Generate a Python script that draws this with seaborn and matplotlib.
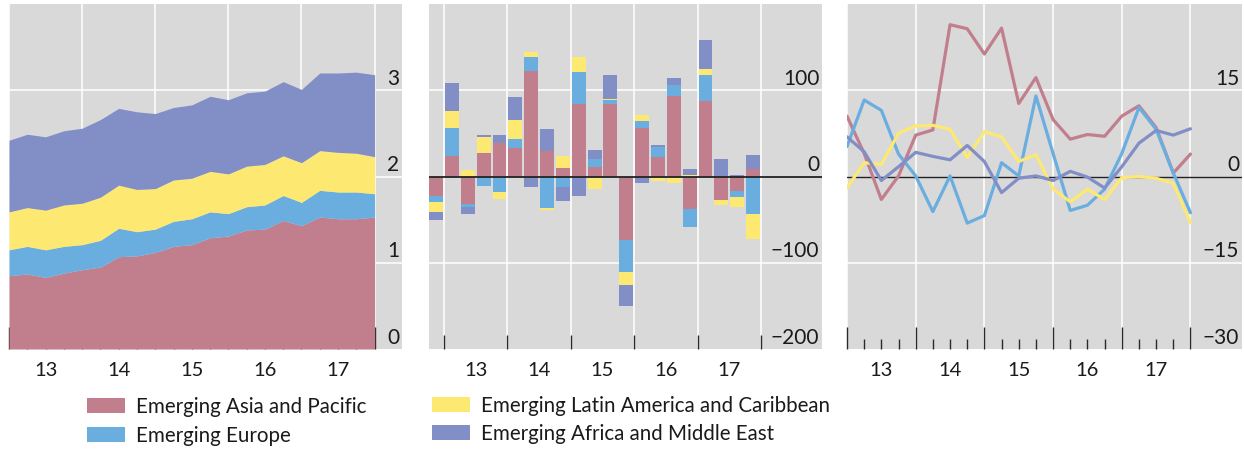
import numpy as np
import pandas as pd
import matplotlib
matplotlib.use("Agg")
import matplotlib.pyplot as plt
from matplotlib.patches import Patch
import seaborn as sns

# ── data ─────────────────────────────────────────────────────────────────────
quarters = ["12Q4",
            "13Q1", "13Q2", "13Q3", "13Q4",
            "14Q1", "14Q2", "14Q3", "14Q4",
            "15Q1", "15Q2", "15Q3", "15Q4",
            "16Q1", "16Q2", "16Q3", "16Q4",
            "17Q1", "17Q2", "17Q3", "17Q4"]
year_labels = ["13", "14", "15", "16", "17"]
regions = ["Emerging Asia and Pacific", "Emerging Europe",
           "Emerging Latin America and Caribbean", "Emerging Africa and Middle East"]

# left panel: stocks (stacked)
stock_asia = [0.85, 0.87, 0.83, 0.88, 0.92, 0.95, 1.07, 1.08, 1.12, 1.19, 1.21,
              1.29, 1.31, 1.38, 1.39, 1.49, 1.43, 1.53, 1.51, 1.51, 1.53]
stock_europe = [0.30, 0.32, 0.32, 0.31, 0.29, 0.31, 0.33, 0.28, 0.27, 0.29, 0.30,
                0.30, 0.26, 0.27, 0.28, 0.29, 0.27, 0.31, 0.31, 0.31, 0.27]
stock_latam = [0.44, 0.45, 0.46, 0.48, 0.48, 0.50, 0.50, 0.49, 0.47, 0.48, 0.47,
               0.47, 0.46, 0.47, 0.47, 0.46, 0.46, 0.46, 0.46, 0.45, 0.43]
stock_africa = [0.83, 0.85, 0.85, 0.86, 0.87, 0.90, 0.89, 0.90, 0.87, 0.84, 0.85,
                0.87, 0.86, 0.85, 0.85, 0.86, 0.85, 0.90, 0.92, 0.94, 0.95]

# middle panel: flows (stacked bars)
flow_asia = [-22.3, 23.8, -31.5, 27.3, 38.8, 33.0, 121.9, 29.6, 10.0, 83.8, 11.2,
             83.8, -73.1, 56.2, 22.7, 93.1, -37.3, 87.3, -26.9, -16.5, 8.8]
flow_europe = [-6.9, 32.3, -3.5, -10.8, -17.7, 10.4, 16.2, -36.2, -11.9, 36.9, 9.2,
               4.6, -38.1, 8.1, 11.5, 12.7, -20.8, 30.0, 0.0, -6.9, -43.1]
flow_latam = [-11.5, 19.6, 7.7, 18.5, -8.1, 21.9, 5.8, -3.1, 13.8, 17.3, -15.0,
              1.2, -15.0, 6.9, -5.0, -8.1, 1.9, 6.9, -5.8, -11.5, -28.8]
flow_africa = [-10.0, 32.3, -8.1, 2.3, 9.2, 26.5, -12.7, 25.4, -16.2, -22.3, 10.4,
               27.7, -23.8, -7.3, 2.3, 8.1, 6.9, 33.5, 20.4, 1.9, 16.2]

# right panel: growth rates
growth_asia = [10.5, 4.0, -4.0, 0.1, 7.2, 8.1, 26.4, 25.7, 21.3, 25.8, 12.7,
               17.2, 9.9, 6.5, 7.3, 7.0, 10.5, 12.3, 8.5, 0.6, 3.9]
growth_europe = [5.2, 13.3, 11.5, 3.9, 0.1, -6.1, 0.1, -8.1, -6.8, 2.4, 0.1,
                 14.0, 4.0, -5.9, -5.0, -2.2, 4.0, 12.0, 8.2, 0.6, -6.3]
growth_latam = [-2.0, 2.4, 2.1, 7.5, 8.8, 8.9, 8.2, 3.3, 7.8, 6.9, 2.6,
                3.8, -2.2, -4.4, -2.2, -4.0, -0.2, 0.0, -0.3, -1.2, -8.0]
growth_africa = [6.9, 4.3, -0.7, 1.7, 4.2, 3.5, 2.9, 5.4, 2.6, -2.8, -0.3,
                 0.1, -0.7, 0.9, -0.1, -2.0, 1.7, 5.8, 8.0, 7.2, 8.3]

colors = ["#c17f8e", "#6aaee0", "#fde972", "#828ec6"]
BG = "#d9d9d9"
INK = "#1a1a1a"
FONT = ["Lato", "DejaVu Sans"]

sns.set_theme(style="darkgrid", rc={
    "axes.facecolor": BG, "grid.color": "white", "grid.linewidth": 1.1,
    "axes.edgecolor": BG, "axes.linewidth": 0,
})
plt.rcParams["font.family"] = FONT

W, H = 1244, 449
fig = plt.figure(figsize=(W / 100, H / 100), dpi=100)


def px_axes(left, right, top=4, bottom=349):
    return fig.add_axes([left / W, (H - bottom) / H, (right - left) / W, (bottom - top) / H])


def right_labels(ax, vals, texts):
    for v, t in zip(vals, texts):
        ax.annotate(t, xy=(1, v), xycoords=ax.get_yaxis_transform(),
                    xytext=(-2, 1), textcoords="offset points",
                    ha="right", va="bottom", fontsize=15, color=INK)


def year_ticks(ax, centers):
    for c, lab in zip(centers, year_labels):
        ax.annotate(lab, xy=(c, 0), xycoords=ax.get_xaxis_transform(),
                    xytext=(0, -15.5), textcoords="offset points",
                    ha="center", va="center", fontsize=14.5, color=INK)


def quarter_ticks(ax, n, major_len=16, minor_len=7.5):
    ax.set_xticks([i for i in range(n) if i % 4 == 0])
    ax.set_xticks([i for i in range(n) if i % 4 != 0], minor=True)
    ax.tick_params(axis="x", which="major", direction="in", length=major_len,
                   width=1, color="#2a2a2a", labelbottom=False, bottom=True)
    ax.tick_params(axis="x", which="minor", direction="in", length=minor_len,
                   width=1, color="#2a2a2a", bottom=True)
    ax.grid(True, which="major", axis="both")
    ax.grid(False, which="minor")


x = np.arange(len(quarters))

# ── left: stacked stocks ─────────────────────────────────────────────────────
ax1 = px_axes(9, 402)
ax1.stackplot(x, stock_asia, stock_europe, stock_latam, stock_africa,
              colors=colors, linewidth=0, zorder=2)
ax1.set_xlim(0, 21.5)
ax1.set_ylim(0, 4)
ax1.set_yticks([1, 2, 3])
ax1.tick_params(axis="y", left=False, right=False, labelleft=False)
quarter_ticks(ax1, len(quarters))
ax1.set_axisbelow(True)
right_labels(ax1, [0, 1, 2, 3], ["0", "1", "2", "3"])
year_ticks(ax1, [2, 6, 10, 14, 18])

# ── middle: stacked flows ────────────────────────────────────────────────────
ax2 = px_axes(429, 822)
flows = [flow_asia, flow_europe, flow_latam, flow_africa]
pos_base = np.zeros(len(quarters))
neg_base = np.zeros(len(quarters))
for vals, col in zip(flows, colors):
    v = np.array(vals)
    base = np.where(v >= 0, pos_base, neg_base)
    ax2.bar(x, v, bottom=base, width=0.88, color=col, linewidth=0, zorder=2)
    pos_base = pos_base + np.clip(v, 0, None)
    neg_base = neg_base + np.clip(v, None, 0)
ax2.axhline(0, color="#222222", linewidth=1.3, zorder=4)
ax2.set_xlim(-0.45, 24.35)
ax2.set_ylim(-200, 200)
ax2.set_yticks([-100, 100])
ax2.tick_params(axis="y", left=False, right=False, labelleft=False)
ax2.set_xticks([0.5 + 4 * k for k in range(6)])
ax2.tick_params(axis="x", direction="in", length=10, width=1, color="#2a2a2a",
                labelbottom=False, bottom=True)
ax2.set_axisbelow(True)
right_labels(ax2, [-200, -100, 0, 100], ["\u2212200", "\u2212100", "0", "100"])
year_ticks(ax2, [2.5, 6.5, 10.5, 14.5, 18.5])

# ── right: growth lines ──────────────────────────────────────────────────────
ax3 = px_axes(847, 1242)
growth = pd.DataFrame({
    "q": np.tile(x, 4),
    "region": np.repeat(regions, len(quarters)),
    "value": growth_asia + growth_europe + growth_latam + growth_africa,
})
ax3.axhline(0, color="#222222", linewidth=1.0, zorder=1.5)
sns.lineplot(data=growth, x="q", y="value", hue="region", hue_order=regions,
             palette=dict(zip(regions, colors)), linewidth=2.3, legend=False,
             sort=False, ax=ax3, zorder=3)
ax3.set_xlim(0, 23)
ax3.set_ylim(-30, 30)
ax3.set_yticks([-15, 15])
ax3.set_xlabel("")
ax3.set_ylabel("")
ax3.tick_params(axis="y", left=False, right=False, labelleft=False)
quarter_ticks(ax3, len(quarters))
ax3.set_axisbelow(True)
right_labels(ax3, [-30, -15, 0, 15], ["\u221230", "\u221215", "0", "15"])
year_ticks(ax3, [2, 6, 10, 14, 18])

# ── legend ───────────────────────────────────────────────────────────────────
handles = [Patch(facecolor=c, edgecolor="none") for c in colors]
leg_kw = dict(frameon=False, fontsize=14.8, handlelength=1.85, handleheight=0.74,
              handletextpad=0.55, labelspacing=0.42, borderpad=0, borderaxespad=0,
              loc="upper left", labelcolor=INK)
fig.legend(handles[:2], regions[:2], bbox_to_anchor=(87 / W, (H - 397) / H), **leg_kw)
fig.legend(handles[2:], regions[2:], bbox_to_anchor=(432 / W, (H - 395.5) / H), **leg_kw)

fig.savefig("out.png", dpi=100, facecolor="white")
